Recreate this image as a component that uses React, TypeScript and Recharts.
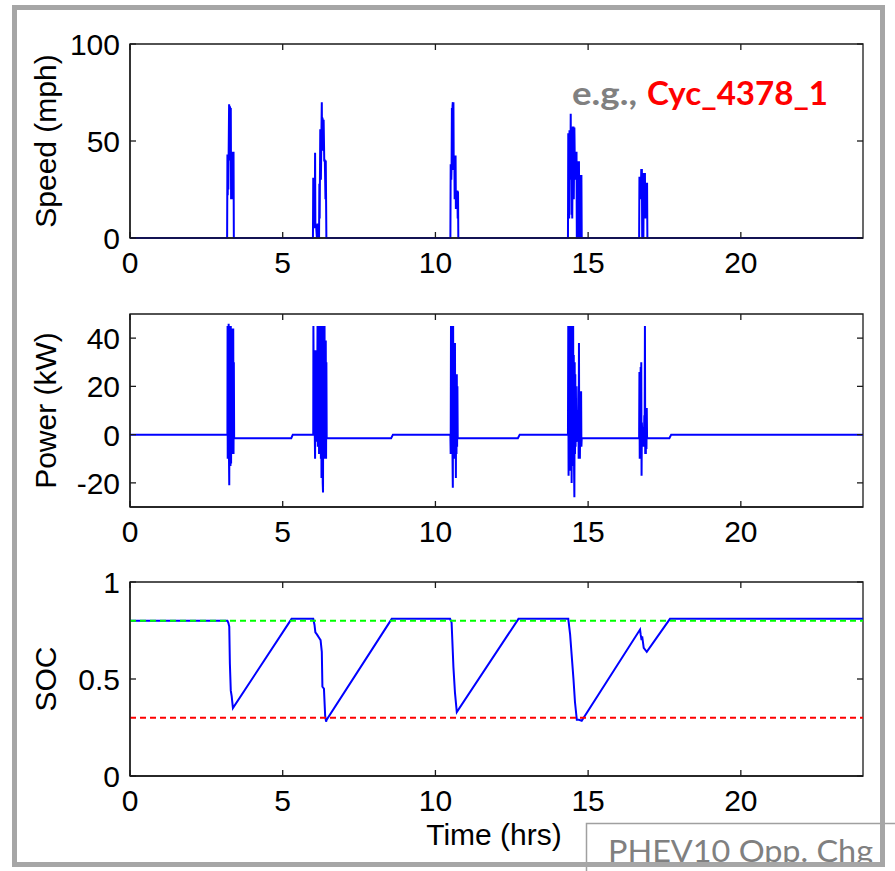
import React from 'react';
import { LineChart, Line, XAxis, YAxis, ReferenceArea, ReferenceLine } from 'recharts';

// time axis (hrs)
const timeDomain: [number, number] = [0, 24];
const timeTicks = [0, 5, 10, 15, 20];

const speedDomain: [number, number] = [0, 100];
const speedTicks = [0, 50, 100];
const powerDomain: [number, number] = [-30, 50];
const powerTicks = [-20, 0, 20, 40];
const socDomain: [number, number] = [0, 1];
const socTicks = [0, 0.5, 1];

const socUpper = 0.8;
const socLower = 0.3;

// speed (mph), [time, value] per trip
const speedTrip1 = [[3.18, 0], [3.19, 43], [3.2, 22], [3.21, 43], [3.22, 25], [3.23, 43], [3.245, 69], [3.25, 40], [3.26, 68], [3.28, 67], [3.29, 45], [3.3, 67], [3.31, 20], [3.32, 40], [3.33, 20], [3.34, 44], [3.36, 44], [3.37, 30], [3.38, 44], [3.39, 44], [3.4, 0]];
const speedTrip2 = [[5.99, 0], [6.0, 31], [6.02, 28], [6.04, 31], [6.05, 5], [6.06, 44], [6.07, 5], [6.09, 7], [6.12, 0], [6.14, 7], [6.17, 7], [6.19, 0], [6.2, 28], [6.21, 10], [6.23, 56], [6.25, 30], [6.27, 57], [6.28, 70], [6.29, 45], [6.3, 62], [6.32, 60], [6.33, 45], [6.34, 61], [6.36, 40], [6.38, 40], [6.4, 20], [6.41, 40], [6.43, 0]];
const speedTrip3 = [[10.49, 0], [10.5, 38], [10.52, 30], [10.53, 38], [10.54, 67], [10.55, 35], [10.56, 68], [10.57, 70], [10.58, 40], [10.59, 70], [10.6, 35], [10.62, 42], [10.63, 20], [10.64, 42], [10.66, 42], [10.67, 15], [10.69, 24], [10.72, 24], [10.73, 10], [10.74, 24], [10.75, 0]];
const speedTrip4 = [[14.34, 0], [14.35, 54], [14.36, 15], [14.37, 54], [14.38, 10], [14.39, 55], [14.41, 55], [14.42, 30], [14.43, 64], [14.44, 30], [14.45, 57], [14.46, 12], [14.47, 57], [14.48, 10], [14.5, 57], [14.52, 57], [14.53, 20], [14.55, 57], [14.56, 44], [14.58, 30], [14.59, 44], [14.62, 44], [14.63, 0], [14.67, 0], [14.68, 39], [14.7, 39], [14.71, 0], [14.73, 0], [14.74, 32], [14.78, 32], [14.79, 0]];
const speedTrip5 = [[16.67, 0], [16.68, 31], [16.71, 31], [16.72, 20], [16.74, 35], [16.76, 35], [16.77, 0], [16.81, 0], [16.82, 33], [16.86, 33], [16.87, 10], [16.88, 28], [16.93, 28], [16.94, 0]];
const speedIdle = [[0, 0], [24, 0]];

// power (kW)
const powerTrip1 = [[3.19, 0], [3.195, 45], [3.2, -10], [3.21, 44], [3.22, -5], [3.23, 46], [3.24, -8], [3.25, -21], [3.26, 45], [3.27, -10], [3.28, 40], [3.29, -13], [3.3, 45], [3.31, -12], [3.32, 38], [3.33, -5], [3.34, 44], [3.35, -8], [3.36, 44], [3.37, -6], [3.38, 44], [3.39, -8], [3.4, 30], [3.41, -1.5]];
const powerTrip2 = [[6.0, 0], [6.005, 45], [6.02, 10], [6.04, 34], [6.05, 0], [6.06, -10], [6.07, 35], [6.09, 0], [6.11, 25], [6.12, -3], [6.14, 45], [6.15, -5], [6.16, 45], [6.17, -3], [6.18, 45], [6.19, -8], [6.2, 45], [6.21, -5], [6.22, 45], [6.23, -6], [6.24, 45], [6.25, -10], [6.26, 45], [6.27, -18], [6.28, 45], [6.29, -8], [6.3, 45], [6.31, -20], [6.32, -24], [6.33, 45], [6.34, -10], [6.35, 45], [6.36, -8], [6.37, 45], [6.38, -10], [6.39, 39], [6.4, -10], [6.41, 39], [6.42, -10], [6.43, 30], [6.44, -1.5]];
const powerTrip3 = [[10.49, 0], [10.5, -8], [10.51, 45], [10.52, -5], [10.53, 45], [10.54, -8], [10.55, 45], [10.56, -10], [10.57, -22], [10.58, 45], [10.59, -5], [10.6, 38], [10.61, -8], [10.62, 38], [10.63, -10], [10.64, 38], [10.65, -5], [10.66, 25], [10.67, -18], [10.68, 25], [10.69, -8], [10.7, 25], [10.71, -5], [10.72, 20], [10.73, -1.5]];
const powerTrip4 = [[14.34, 0], [14.35, 45], [14.36, -17], [14.37, 45], [14.38, -10], [14.39, 45], [14.4, -15], [14.41, 45], [14.42, -8], [14.43, 45], [14.44, -12], [14.45, 45], [14.46, -20], [14.47, 45], [14.48, -10], [14.49, 45], [14.5, -13], [14.51, 45], [14.52, -8], [14.53, 33], [14.54, -15], [14.55, -26], [14.56, 30], [14.57, -8], [14.58, 25], [14.59, -5], [14.6, 20], [14.61, -3], [14.63, 0], [14.65, 10], [14.66, -3], [14.68, 20], [14.69, -10], [14.7, 38], [14.71, -10], [14.72, 15], [14.73, -10], [14.75, 18], [14.76, -5], [14.77, 18], [14.78, -5], [14.79, -1.5]];
const powerTrip5 = [[16.67, -1.5], [16.68, 26], [16.69, -10], [16.7, 26], [16.71, -8], [16.72, 28], [16.73, -5], [16.74, 30], [16.75, -17], [16.76, 5], [16.78, -3], [16.8, 3], [16.82, -5], [16.84, 8], [16.85, -3], [16.86, 45], [16.87, -8], [16.88, 5], [16.89, -8], [16.9, 11], [16.91, -6], [16.92, 11], [16.93, -1.5]];
const powerIdle = [[0, 0], [5.28, -1.5], [5.33, 0], [8.55, -1.5], [8.61, 0], [12.7, -1.5], [12.76, 0], [17.66, -1.5], [17.72, 0], [24, 0]];

// battery state of charge
const socPts = [[0, 0.8], [3.19, 0.8], [3.22, 0.79], [3.25, 0.77], [3.27, 0.58], [3.3, 0.44], [3.33, 0.41], [3.37, 0.35], [5.29, 0.81], [6.0, 0.81], [6.04, 0.78], [6.07, 0.74], [6.12, 0.73], [6.2, 0.71], [6.24, 0.7], [6.28, 0.64], [6.3, 0.46], [6.35, 0.45], [6.39, 0.31], [6.42, 0.28], [6.44, 0.29], [8.57, 0.81], [10.48, 0.81], [10.53, 0.79], [10.59, 0.56], [10.64, 0.43], [10.7, 0.33], [12.72, 0.81], [14.35, 0.81], [14.41, 0.73], [14.52, 0.5], [14.57, 0.38], [14.63, 0.29], [14.7, 0.29], [14.79, 0.285], [16.7, 0.755], [16.72, 0.73], [16.75, 0.7], [16.77, 0.72], [16.82, 0.66], [16.92, 0.64], [17.68, 0.81], [24, 0.81]];

const toRows = (pts: number[][]) =>
  [...pts].sort((a, b) => a[0] - b[0]).map(([t, v]) => ({ t, v }));

const speedData = toRows([...speedIdle, ...speedTrip1, ...speedTrip2, ...speedTrip3, ...speedTrip4, ...speedTrip5]);
const powerData = toRows([...powerIdle, ...powerTrip1, ...powerTrip2, ...powerTrip3, ...powerTrip4, ...powerTrip5]);
const socData = toRows(socPts);

const W = 895;
const H = 871;
const PLOT_L = 130;
const PLOT_R = 863;
const PLOT_W = PLOT_R - PLOT_L;
const FONT = '"Liberation Sans", Arial, Helvetica, sans-serif';
const AXIS = '#1a1a1a';
const BLUE = '#0000ff';

const xTick = (plotH: number) => (props: any) => {
  const { x, y, payload } = props;
  return (
    <g>
      <line x1={x} y1={y} x2={x} y2={y - 6} stroke={AXIS} strokeWidth={1.3} />
      <line x1={x} y1={y - plotH} x2={x} y2={y - plotH + 6} stroke={AXIS} strokeWidth={1.3} />
      <text x={x} y={y + 35} textAnchor="middle" fontSize={30} fontFamily={FONT} fill="#000">
        {payload.value}
      </text>
    </g>
  );
};

const yTick = (props: any) => {
  const { x, y, payload } = props;
  return (
    <g>
      <line x1={x} y1={y} x2={x + 6} y2={y} stroke={AXIS} strokeWidth={1.3} />
      <line x1={x + PLOT_W} y1={y} x2={x + PLOT_W - 6} y2={y} stroke={AXIS} strokeWidth={1.3} />
      <text x={x - 10} y={y + 11} textAnchor="end" fontSize={30} fontFamily={FONT} fill="#000">
        {payload.value}
      </text>
    </g>
  );
};

type PanelProps = {
  data: { t: number; v: number }[];
  chartTop: number;
  chartHeight: number;
  plotTop: number;
  plotBottom: number;
  yDomain: [number, number];
  yTicks: number[];
  yTitle: string;
  xTitle?: string;
  children?: React.ReactNode;
};

const Panel = ({ data, chartTop, chartHeight, plotTop, plotBottom, yDomain, yTicks, yTitle, xTitle, children }: PanelProps) => {
  const plotH = plotBottom - plotTop;
  const cy = (plotTop + plotBottom) / 2 - chartTop;
  const titleX = 56;
  return (
    <div style={{ position: 'absolute', left: 0, top: chartTop }}>
      <LineChart
        width={W}
        height={chartHeight}
        data={data}
        margin={{ top: plotTop - chartTop, right: W - PLOT_R, bottom: chartTop + chartHeight - plotBottom - 1, left: PLOT_L - 1 }}
      >
        <XAxis
          dataKey="t"
          type="number"
          domain={timeDomain}
          ticks={timeTicks}
          interval={0}
          height={1}
          tickSize={0}
          tickMargin={0}
          tickLine={false}
          axisLine={{ stroke: AXIS, strokeWidth: 1.3 }}
          tick={xTick(plotH)}
          label={
            xTitle
              ? () => (
                  <text x={494} y={plotBottom - chartTop + 69} textAnchor="middle" fontSize={30} fontFamily={FONT} fill="#000">
                    {xTitle}
                  </text>
                )
              : undefined
          }
        />
        <YAxis
          type="number"
          domain={yDomain}
          ticks={yTicks}
          interval={0}
          width={1}
          tickSize={0}
          tickMargin={0}
          tickLine={false}
          axisLine={{ stroke: AXIS, strokeWidth: 1.3 }}
          tick={yTick}
          label={() => (
            <text
              x={titleX}
              y={cy}
              transform={`rotate(-90 ${titleX} ${cy})`}
              textAnchor="middle"
              fontSize={30}
              fontFamily={FONT}
              fill="#000"
            >
              {yTitle}
            </text>
          )}
        />
        <ReferenceArea x1={timeDomain[0]} x2={timeDomain[1]} y1={yDomain[0]} y2={yDomain[1]} fill="none" fillOpacity={0} stroke={AXIS} strokeWidth={1.3} />
        {children}
      </LineChart>
    </div>
  );
};

const App = () => {
  return (
    <div style={{ position: 'fixed', left: 0, top: 0, width: W, height: H, background: '#fff', overflow: 'hidden' }}>
      <Panel data={speedData} chartTop={0} chartHeight={300} plotTop={44} plotBottom={238} yDomain={speedDomain} yTicks={speedTicks} yTitle="Speed (mph)">
        <Line dataKey="v" type="linear" stroke={BLUE} strokeWidth={2} dot={false} activeDot={false} isAnimationActive={false} />
      </Panel>
      <Panel data={powerData} chartTop={280} chartHeight={300} plotTop={314} plotBottom={507} yDomain={powerDomain} yTicks={powerTicks} yTitle="Power (kW)">
        <Line dataKey="v" type="linear" stroke={BLUE} strokeWidth={2} dot={false} activeDot={false} isAnimationActive={false} />
      </Panel>
      <Panel data={socData} chartTop={550} chartHeight={321} plotTop={582} plotBottom={776} yDomain={socDomain} yTicks={socTicks} yTitle="SOC" xTitle="Time (hrs)">
        <Line dataKey="v" type="linear" stroke={BLUE} strokeWidth={2} dot={false} activeDot={false} isAnimationActive={false} />
        <ReferenceLine y={socUpper} stroke="#00ff00" strokeWidth={2} strokeDasharray="6 4" />
        <ReferenceLine y={socLower} stroke="#ff0000" strokeWidth={2} strokeDasharray="6 4" />
      </Panel>
      <svg width={W} height={H} style={{ position: 'absolute', left: 0, top: 0, pointerEvents: 'none' }}>
        <text x={572} y={105} fontSize={32} fontWeight="bold" fontFamily="Lato, 'Open Sans', sans-serif" fill="#808080" textLength={65} lengthAdjust="spacingAndGlyphs">
          e.g.,
        </text>
        <text x={647} y={105} fontSize={32} fontWeight="bold" fontFamily="Lato, 'Open Sans', sans-serif" fill="#ff0000" textLength={181} lengthAdjust="spacingAndGlyphs">
          Cyc_4378_1
        </text>
        <rect x={586.5} y={823.5} width={330} height={60} fill="#fff" stroke="#a0a0a0" strokeWidth={1.5} />
        <text x={608} y={862} fontSize={31} fontFamily="Lato, 'Open Sans', sans-serif" fill="#808080" textLength={265} lengthAdjust="spacingAndGlyphs">
          PHEV10 Opp. Chg
        </text>
        <rect x={14.5} y={7.5} width={868} height={857} fill="none" stroke="#a6a6a6" strokeWidth={5} />
      </svg>
    </div>
  );
};

export default App;
